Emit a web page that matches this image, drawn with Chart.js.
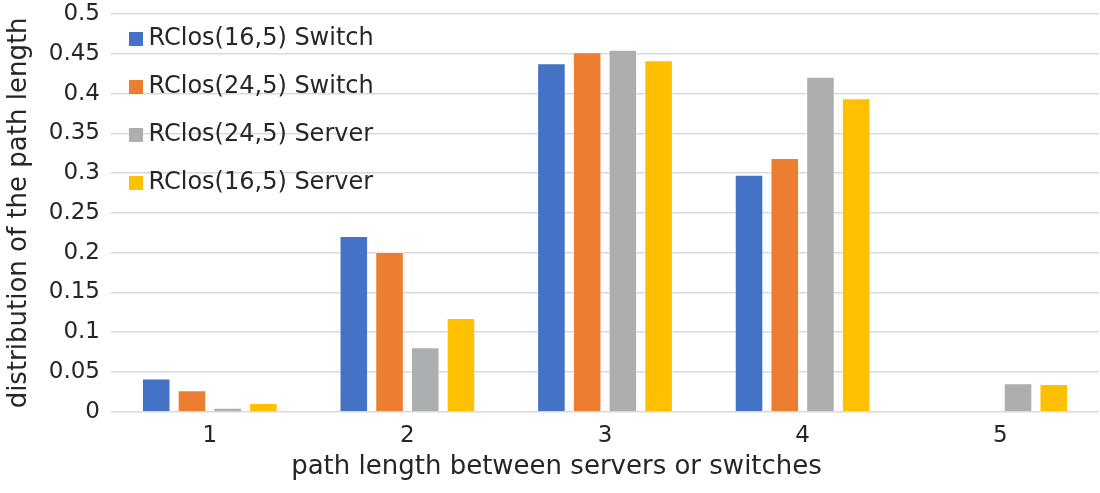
<!DOCTYPE html>
<html>
<head>
<meta charset="utf-8">
<script src="https://cdn.jsdelivr.net/npm/chart.js@4.4.0/dist/chart.umd.min.js"></script>
<style>
  html, body { margin: 0; padding: 0; background: #fff; }
  #wrap { width: 1100px; height: 493px; position: relative; }
</style>
</head>
<body>
<div id="wrap"><canvas id="pathChart"></canvas></div>
<script>
// Data
const categories = ['1', '2', '3', '4', '5'];
const rclos16Switch = [0.042, 0.221, 0.438, 0.298, 0];
const rclos24Switch = [0.027, 0.201, 0.452, 0.319, 0];
const rclos24Server = [0.005, 0.081, 0.455, 0.421, 0.036];
const rclos16Server = [0.011, 0.118, 0.442, 0.394, 0.035];
const yTicks = [0, 0.05, 0.1, 0.15, 0.2, 0.25, 0.3, 0.35, 0.4, 0.45, 0.5];

const colors = ['#4472C4', '#ED7D31', '#ADAEB0', '#FFC000'];
const textColor = '#262626';
const fontFamily = '"DejaVu Sans", "Liberation Sans", Arial, sans-serif';

// little square swatches for the legend
function swatch(color) {
    const c = document.createElement('canvas');
    c.width = 14;
    c.height = 14;
    const g = c.getContext('2d');
    g.fillStyle = color;
    g.fillRect(0, 0, 14, 14);
    return c;
}
const swatches = colors.map(swatch);

function series(label, data, color) {
    return {
        label: label,
        data: data,
        backgroundColor: color,
        borderColor: 'rgba(255,255,255,0.5)',
        borderWidth: 1,
        categoryPercentage: 0.723,
        barPercentage: 0.8
    };
}

const ctx = document.getElementById('pathChart').getContext('2d');
const pathChart = new Chart(ctx, {
    type: 'bar',
    data: {
        labels: categories,
        datasets: [
            series('RClos(16,5) Switch', rclos16Switch, colors[0]),
            series('RClos(24,5) Switch', rclos24Switch, colors[1]),
            series('RClos(24,5) Server', rclos24Server, colors[2]),
            series('RClos(16,5) Server', rclos16Server, colors[3])
        ]
    },
    options: {
        responsive: true,
        maintainAspectRatio: false,
        animation: false,
        layout: { padding: { top: 14, right: 1, left: 14, bottom: 0 } },
        scales: {
            x: {
                afterFit: (axis) => { axis.height = 40; },
                grid: { display: false, drawTicks: false },
                border: { display: false },
                ticks: {
                    color: textColor,
                    font: { family: fontFamily, size: 23 },
                    padding: 10
                }
            },
            y: {
                min: 0,
                max: 0.5,
                afterFit: (axis) => {
                    axis.width = 97;
                    axis.paddingTop = 0;
                    axis.paddingBottom = 0;
                },
                afterBuildTicks: (axis) => {
                    axis.ticks = yTicks.map(v => ({ value: v }));
                },
                grid: {
                    color: '#d9d9d9',
                    lineWidth: 1.5,
                    drawTicks: false
                },
                border: { display: false },
                ticks: {
                    color: textColor,
                    font: { family: fontFamily, size: 23 },
                    padding: 11,
                    callback: (v) => String(Number(v.toFixed(2)))
                },
                title: {
                    display: true,
                    text: 'distribution of the path length',
                    color: textColor,
                    font: { family: fontFamily, size: 26 },
                    padding: { top: -10, bottom: 0 }
                }
            }
        },
        plugins: {
            title: {
                display: true,
                position: 'bottom',
                text: 'path length between servers or switches',
                color: textColor,
                font: { family: fontFamily, size: 26, weight: 'normal' },
                padding: { top: 0, bottom: 10 }
            },
            legend: {
                position: 'chartArea',
                align: 'start',
                // empty title only to nudge the entries down a little
                title: {
                    display: true,
                    text: '',
                    font: { size: 1, lineHeight: 1 },
                    padding: { top: 2, bottom: 0 }
                },
                labels: {
                    color: textColor,
                    font: { family: fontFamily, size: 24 },
                    usePointStyle: true,
                    pointStyleWidth: 1.5,
                    boxHeight: 14,
                    padding: 24,
                    generateLabels: (chart) =>
                        Chart.defaults.plugins.legend.labels.generateLabels(chart)
                            .map((item, i) => ({ ...item, pointStyle: swatches[i] }))
                }
            },
            tooltip: { enabled: false }
        }
    }
});
</script>
</body>
</html>
